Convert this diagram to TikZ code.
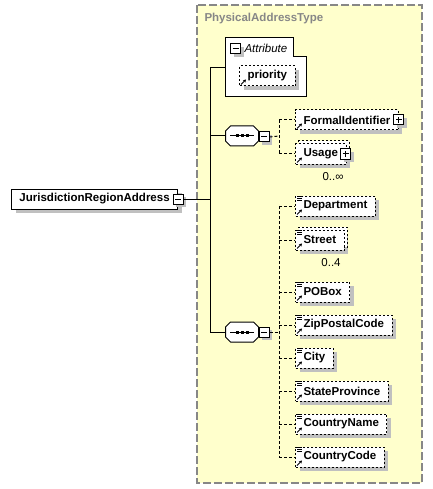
\documentclass[tikz,border=0pt]{standalone}
\usepackage{fontspec}
\setmainfont{Liberation Sans}
\usetikzlibrary{shadows,arrows.meta}

\definecolor{typefill}{RGB}{255,255,204}
\definecolor{shadowgray}{RGB}{192,192,192}
\definecolor{titlegray}{RGB}{135,135,135}
\newcommand{\dfont}{\fontsize{11.5}{13.5}\selectfont}

% element icons
\newcommand{\refarrow}[1]{\draw[-{Stealth[length=3pt,width=3.5pt]}, line width=1pt] ([shift={(2,-2)}]#1.south west) -- ++(5,-5);}
\newcommand{\typelines}[1]{\foreach \d in {1,3,5} \draw[line width=0.8pt] ([shift={(2,\d)}]#1.north west) -- ++(5,0);}
% sequence compositor: octagon with shadow and dotted bar
\newcommand{\octpath}[1]{([shift={(5,0)}]#1.north west) -- ([shift={(-5,0)}]#1.north east) -- ([shift={(0,5)}]#1.north east)
		-- ([shift={(0,-5)}]#1.south east) -- ([shift={(-5,0)}]#1.south east) -- ([shift={(5,0)}]#1.south west)
		-- ([shift={(0,-5)}]#1.south west) -- ([shift={(0,5)}]#1.north west) -- cycle}
\newcommand{\seqshape}[1]{
	\fill[shadowgray, shift={(4,4)}] \octpath{#1};
	\draw[fill=white] \octpath{#1};
	\draw[line width=1pt] ([xshift=-12]#1.center) -- ([xshift=12]#1.center);
	\foreach \d in {-5,0,5} \fill ([shift={(\d-1.5,-1.5)}]#1.center) rectangle ++(3,3);}

\begin{document}
\begin{tikzpicture}[x=1pt, y=-1pt, line width=1pt]
\tikzset{
	elem/.style={draw, dash pattern=on 2pt off 2pt, fill=white, minimum height=20pt,
		inner xsep=8pt, inner ysep=0pt, anchor=west, font=\dfont\bfseries,
		general shadow={fill=shadowgray, shadow xshift=4pt, shadow yshift=-4pt}},
	multi/.style={copy shadow={shadow xshift=3pt, shadow yshift=3pt}},
	pm/.style={draw, solid, fill=white, minimum size=10pt, inner sep=0pt,
		general shadow={fill=shadowgray, shadow xshift=3pt, shadow yshift=-3pt}},
	minus/.style={pm, path picture={\draw ([xshift=2pt]path picture bounding box.west) -- ([xshift=-2pt]path picture bounding box.east);}},
	plus/.style={pm, path picture={\draw ([xshift=2pt]path picture bounding box.west) -- ([xshift=-2pt]path picture bounding box.east);
		\draw ([yshift=2pt]path picture bounding box.south) -- ([yshift=-2pt]path picture bounding box.north);}},
	seq/.style={rectangle, minimum width=32pt, minimum height=19pt, inner sep=0pt},
	conn/.style={dash pattern=on 3pt off 2pt},
	card/.style={font=\dfont, inner sep=0pt}
}
\useasboundingbox (0,0) rectangle (432,489);

% complex type box
\draw[draw=titlegray, fill=typefill, line width=1.2pt, dash pattern=on 8pt off 3pt] (197,5) rectangle (422,483);
\node[anchor=west, font=\dfont\bfseries, text=titlegray, inner sep=0pt] (ptitle) at (204,19) {PhysicalAddressType};

% attribute group
\draw[fill=white] (225,38) -- (293,38) -- (293,57) -- (306,57) -- (306,97) -- (225,97) -- cycle;
\node[minus, general shadow={}] (attmin) at (235.5,49) {};
\node[anchor=west, font=\dfont\itshape, inner sep=0pt] (attlbl) at (244,48) {Attribute};
\coordinate (attin) at (225,68);
\node[elem] (prio) at (239,76) {priority};
\refarrow{prio}

% root element
\node[elem, solid] (jra) at (11,199) {JurisdictionRegionAddress\hspace{5pt}};
\node[minus] (jramin) at (jra.east) {};

% sequences
\node[seq] (seq1) at (242,136) {};
\seqshape{seq1}
\node[minus] (s1min) at (264,137) {};
\node[seq] (seq2) at (242,332) {};
\seqshape{seq2}
\node[minus] (s2min) at (264,332) {};

\coordinate (trunk) at (210,199);
\draw (jramin.east) -- (trunk);
\draw (attin -| trunk) -- (seq2.west -| trunk);
\draw (attin -| trunk) -- (attin);
\draw (seq1.west -| trunk) -- (seq1.west);
\draw (seq2.west -| trunk) -- (seq2.west);

% first sequence children
\node[elem] (fid) at (295,120) {FormalIdentifier\hspace{6pt}};
\node[plus] (fidplus) at (fid.east) {};
\refarrow{fid}
\node[elem, multi] (use) at (295,154) {Usage\hspace{8pt}};
\node[plus] (useplus) at ([xshift=-1]use.east) {};
\refarrow{use}
\node[card] (usecard) at (333,177) {0..∞};

\coordinate (fork1) at (279,136);
\draw[conn] (s1min.east) -- (fork1);
\draw[conn] (fork1 |- fid.west) -- (fork1 |- use.west);
\foreach \n in {fid,use}
	\draw[conn] (fork1 |- \n.west) -- (\n.west);

% second sequence children
\node[elem] (dept) at (295,206) {Department};
\node[elem, multi] (street) at (295,240) {Street};
\node[card] (streetcard) at (331,263) {0..4};
\node[elem] (pobox) at (295,292) {POBox};
\node[elem] (zip) at (295,325) {ZipPostalCode};
\node[elem] (city) at (295,358) {City\hspace{16pt}};
\node[elem] (state) at (295,391) {StateProvince};
\node[elem] (cname) at (295,424) {CountryName};
\node[elem] (ccode) at (295,457) {CountryCode};

\coordinate (fork2) at (279,332);
\draw[conn] (s2min.east) -- (fork2);
\draw[conn] (fork2 |- dept.west) -- (fork2 |- ccode.west);
\foreach \n in {dept,street,pobox,zip,city,state,cname,ccode} {
	\draw[conn] (fork2 |- \n.west) -- (\n.west);
	\typelines{\n}
	\refarrow{\n}
}
\end{tikzpicture}
\end{document}
